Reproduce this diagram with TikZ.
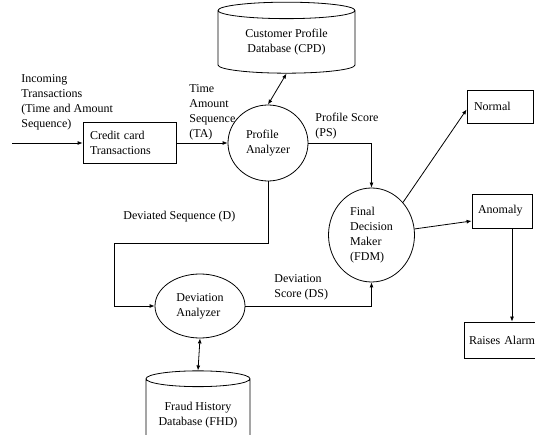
\documentclass[tikz,border=0pt]{standalone}
\usepackage{fontspec}
\setmainfont{Liberation Serif}
\usetikzlibrary{shapes.geometric,arrows.meta}

\tikzset{
  db/.style={cylinder, draw, shape border rotate=90, aspect=0.2, inner sep=0, align=center},
  proc/.style={ellipse, draw, inner sep=0, align=left},
  box/.style={rectangle, draw, inner xsep=7pt, inner ysep=0, align=left},
  lbl/.style={anchor=north west, inner sep=0, align=left},
}

\begin{document}
\begin{tikzpicture}[x=1pt, y=-1pt, line width=0.8pt, font=\fontsize{12}{15}\selectfont,
  >={Latex[length=5pt,width=4pt]}]
\useasboundingbox (0,0) rectangle (535,435);

\node[db, minimum width=137, minimum height=71] (cpd) at (286.5,42) {Customer Profile\\Database (CPD)};
\node[proc, minimum width=80, minimum height=76] (pa) at (268,143) {Profile\\Analyzer};
\node[box, text width=79, minimum height=41] (cct) at (129.5,143) {Credit card\\Transactions};
\node[proc, minimum width=86, minimum height=94] (fdm) at (371.5,235) {Final\\Decision\\Maker\\(FDM)};
\node[proc, minimum width=90, minimum height=64] (da) at (200,306) {Deviation\\Analyzer};
\node[db, minimum width=104, minimum height=80] (fhd) at (198,415) {Fraud History\\Database (FHD)};
\node[box, text width=52, minimum height=33] (normal) at (500,106.5) {Normal};
\node[box, inner xsep=6pt, text width=48, minimum height=34] (anomaly) at (502,211) {Anomaly};
\node[box, inner xsep=5pt, text width=75, minimum height=36] (alarm) at (506.5,340) {Raises Alarm};
\coordinate (in) at (12,143);
\coordinate (d1) at (114,243);

% labels
\node[lbl] (inlbl) at (21,74) {Incoming\\Transactions\\(Time and Amount\\Sequence)};
\node[lbl] (talbl) at (189,84) {Time\\Amount\\Sequence\\(TA)};
\node[lbl] (pslbl) at (315,113) {Profile Score\\(PS)};
\node[lbl] (dlbl) at (123,211) {Deviated Sequence (D)};
\node[lbl] (dslbl) at (274,274) {Deviation\\Score (DS)};

% connectors
\draw[->] (in) -- (cct);
\draw[->] (cct) -- (pa);
\draw[<->] (cpd.south) -- (pa.north);
\draw[->] (pa.east) -| (fdm.north);
\draw[->] (pa.south) |- (d1) |- (da.west);
\draw[->] (da.east) -| (fdm.south);
\draw[<->] (da.south) -- (fhd.north);
\draw[->] (fdm.46) -- ([yshift=-3pt]normal.west);
\draw[->] (fdm.8) -- ([yshift=-10pt]anomaly.west);
\draw[->] ([xshift=10pt]anomaly.south) -- ([xshift=10pt]anomaly.south |- alarm.north);

\end{tikzpicture}
\end{document}
